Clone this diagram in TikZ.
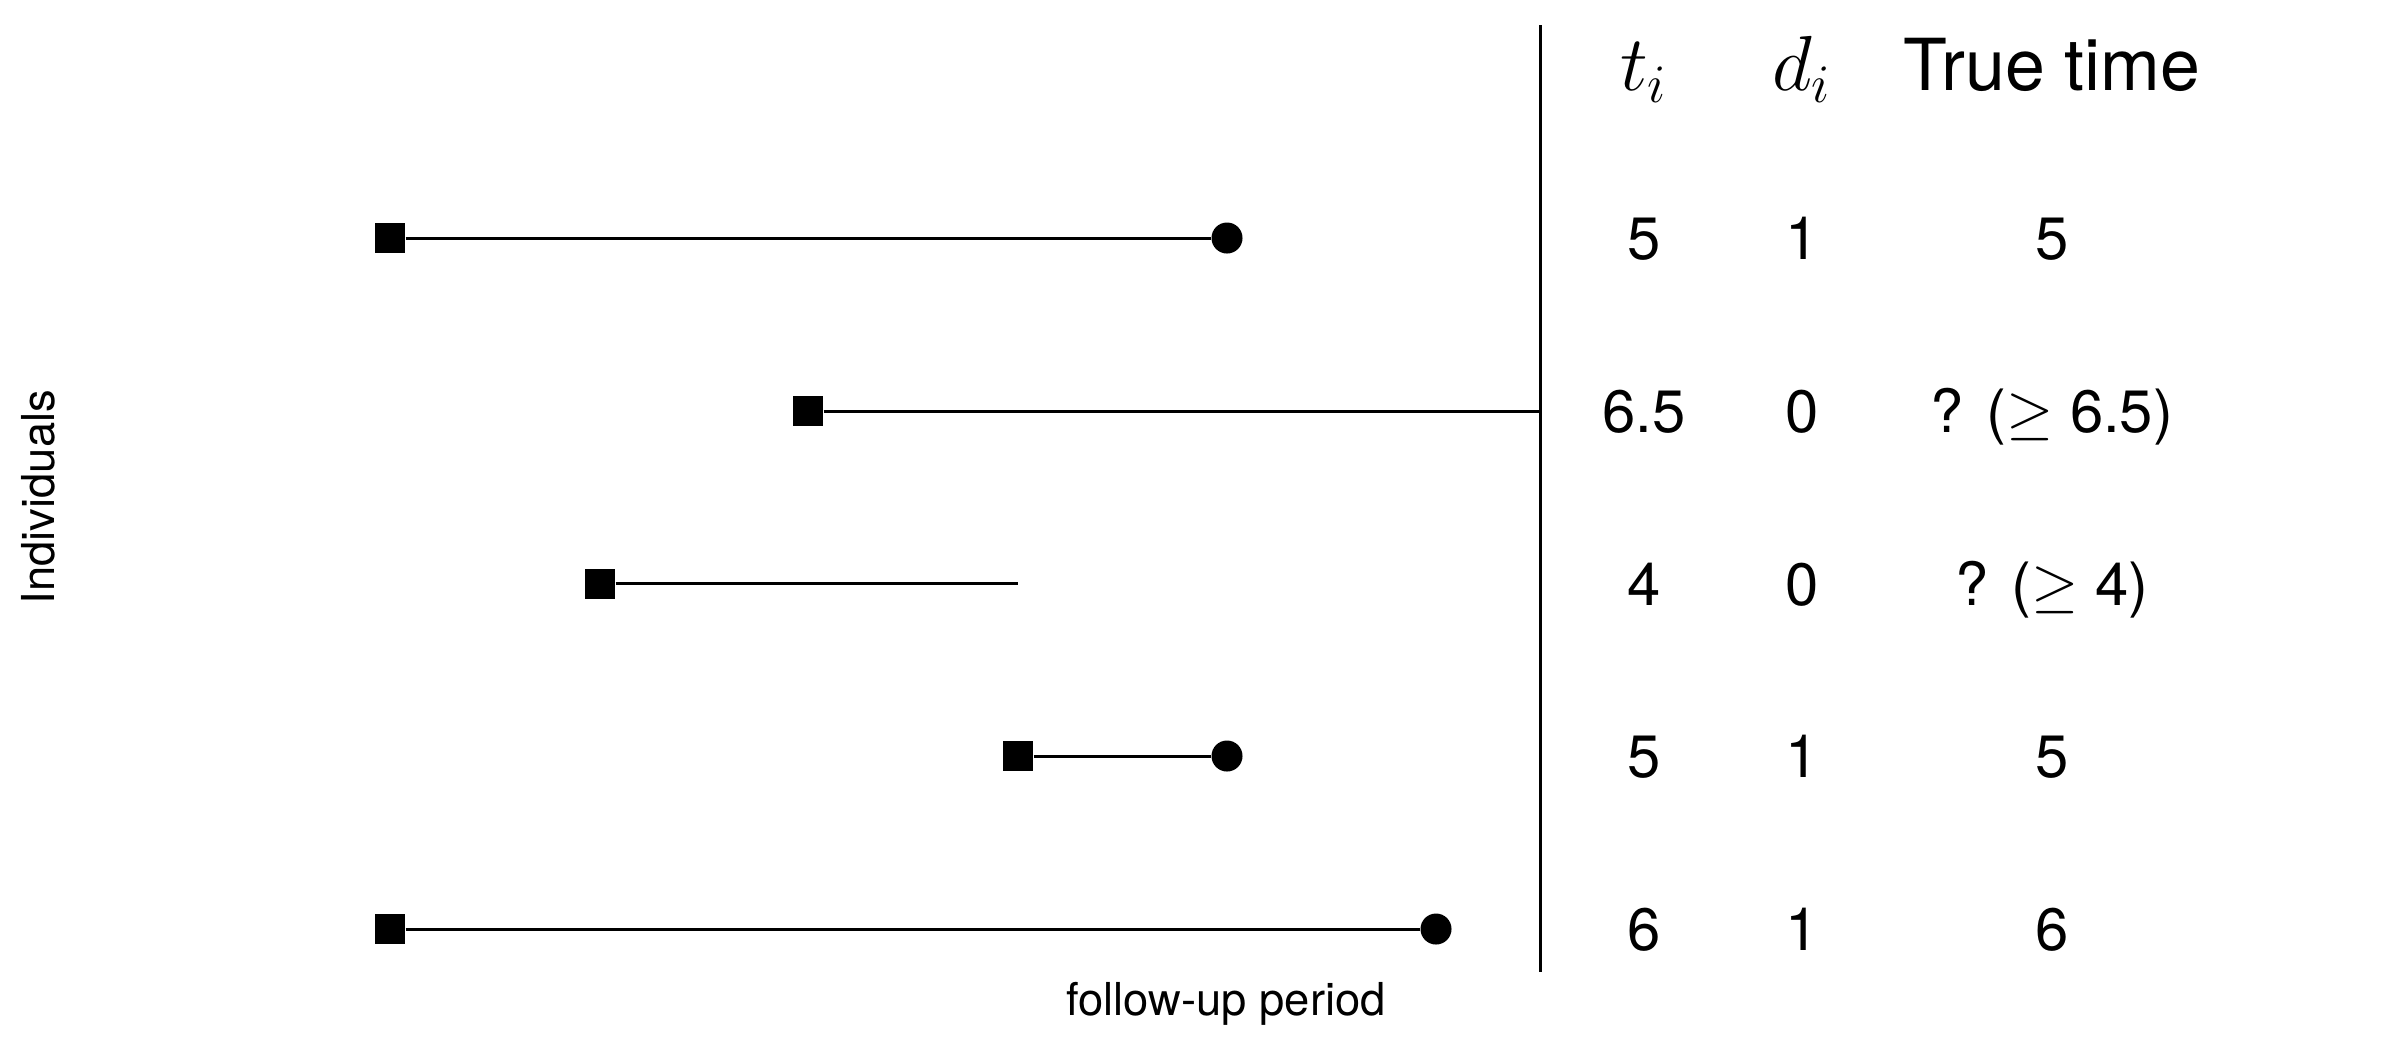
\documentclass[tikz,border=0pt]{standalone}
\usepackage{fontspec}
\setmainfont{TeX Gyre Heros}
\begin{document}
\begin{tikzpicture}[x=0.01cm,y=-0.01cm,
  seg/.style={line width=0.85pt},
  startmark/.style={fill=black, rectangle, minimum size=0.3cm, inner sep=0pt},
  endmark/.style={fill=black, circle, minimum size=0.31cm, inner sep=0pt},
  val/.style={anchor=base, font=\fontsize{17}{20}\selectfont, inner sep=0pt},
  head/.style={anchor=base, font=\fontsize{20.4}{24}\selectfont, inner sep=0pt},
  mathhead/.style={head, scale=1.07, transform shape},
  lab/.style={font=\fontsize{12.9}{15}\selectfont, inner sep=0pt}]
\useasboundingbox (0,0) rectangle (2400,1050);
% vertical separator
\coordinate (vtop) at (1540,25);
\coordinate (vbot) at (1540,972);
\draw[seg] (vtop) -- (vbot);
% row 1
\node[startmark] (s1) at (390,238) {};
\node[endmark] (e1) at (1227,238) {};
\draw[seg] (s1) -- (e1);
% row 2
\node[startmark] (s2) at (808,411) {};
\coordinate (c2) at (1540,411);
\draw[seg] (s2) -- (c2);
% row 3
\node[startmark] (s3) at (600,583.5) {};
\coordinate (c3) at (1018,583.5);
\draw[seg] (s3) -- (c3);
% row 4
\node[startmark] (s4) at (1018,756) {};
\node[endmark] (e4) at (1227,756) {};
\draw[seg] (s4) -- (e4);
% row 5
\node[startmark] (s5) at (390,929) {};
\node[endmark] (e5) at (1436,929) {};
\draw[seg] (s5) -- (e5);
% headers
\node[mathhead] (ht) at (1644,90.7) {$t_i$};
\node[mathhead] (hd) at (1802,90.7) {$d_i$};
\node[head] (htt) at (2052,90.7) {True time};
% values
\node[val] (t1) at (1644,259.5) {5};
\node[val] (d1) at (1802,259.5) {1};
\node[val] (r1) at (2052,259.5) {5};
\node[val] (t2) at (1644,432.5) {6.5};
\node[val] (d2) at (1802,432.5) {0};
\node[val] (r2) at (2052,432.5) {? ($\geq$ 6.5)};
\node[val] (t3) at (1644,605) {4};
\node[val] (d3) at (1802,605) {0};
\node[val] (r3) at (2052,605) {? ($\geq$ 4)};
\node[val] (t4) at (1644,777.5) {5};
\node[val] (d4) at (1802,777.5) {1};
\node[val] (r4) at (2052,777.5) {5};
\node[val] (t5) at (1644,950.5) {6};
\node[val] (d5) at (1802,950.5) {1};
\node[val] (r5) at (2052,950.5) {6};
% axis labels
\node[lab, anchor=base] (xlab) at (1226,1015) {follow-up period};
\node[lab, rotate=90] (ylab) at (38.5,497) {Individuals};
\end{tikzpicture}
\end{document}
